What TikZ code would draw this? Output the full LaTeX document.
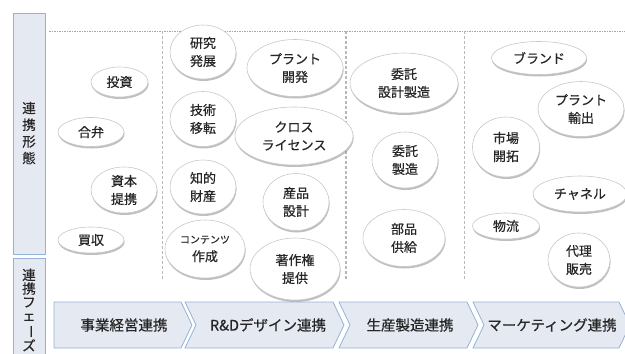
\documentclass[tikz,border=0pt]{standalone}
\usepackage{fontspec}
\newfontfamily\jp[FakeBold=0.5]{Noto Sans CJK JP}
\usetikzlibrary{shapes.geometric,shadows}
\definecolor{boxfill}{HTML}{E4E9F2}
\definecolor{boxline}{HTML}{95B3D7}
\definecolor{elline}{HTML}{C8C8C8}
\definecolor{dashc}{HTML}{A6A6A6}
\definecolor{txt}{HTML}{262626}
\begin{document}
\begin{tikzpicture}[x=1pt,y=-1pt,
  bub/.style={ellipse, draw=elline, line width=0.6pt, fill=white, inner sep=0pt,
    align=center, text=txt, font=\jp\fontsize{13}{18}\selectfont,
    drop shadow={shadow xshift=0.6pt, shadow yshift=-2pt, fill=black!50, opacity=0.5}},
  sidebox/.style={draw=boxline, fill=boxfill, line width=0.8pt},
  chev/.style={draw=boxline, fill=boxfill, line width=0.8pt, line join=miter},
  chevtext/.style={text=txt, font=\jp\fontsize{14.5}{16}\selectfont, inner sep=0pt},
  sidetext/.style={text=txt, align=center, inner sep=0pt},
  hline/.style={draw=dashc, line width=0.9pt, dash pattern=on 1.6pt off 0.9pt},
  vline/.style={draw=dashc!80, line width=1.2pt, dash pattern=on 3pt off 2pt}
]
\useasboundingbox (0,0) rectangle (625,354);
\clip (0,0) rectangle (625,354);

% side boxes
\draw[sidebox] (13,13) rectangle (45,254);
\draw[sidebox] (13,258) rectangle (45,362);
\node[sidetext, font=\jp\fontsize{13.5}{16.7}\selectfont] (lab1) at (29,133) {連\\携\\形\\態};
\node[sidetext, font=\jp\fontsize{13.5}{13.6}\selectfont] (lab2) at (29,310) {連\\携\\フ\\ェ\\\rotatebox[origin=c]{-90}{ー}\\ズ};

% dashed separators
\draw[hline] (49,31) -- (625,31);
\draw[vline] (162.5,31) -- (162.5,281);
\draw[vline] (346,31) -- (346,279);
\draw[vline] (464.5,31) -- (464.5,279);

% column 1
\node[bub, minimum width=57, minimum height=30] (toushi) at (119.5,82) {投資};
\node[bub, minimum width=66, minimum height=29] (gouben) at (91,132) {合弁};
\node[bub, minimum width=66, minimum height=46] (shihon) at (124,190) {資本\\提携};
\node[bub, minimum width=66, minimum height=26] (baishu) at (91,240) {買収};

% column 2
\node[bub, minimum width=66, minimum height=54] (kenkyu) at (203,52) {研究\\発展};
\node[bub, minimum width=96, minimum height=57] (plantdev) at (295,68) {プラント\\開発};
\node[bub, minimum width=66, minimum height=55] (gijutsu) at (203,119) {技術\\移転};
\node[bub, minimum width=118, minimum height=58] (cross) at (294,136) {クロス\\ライセンス};
\node[bub, minimum width=66, minimum height=54] (chiteki) at (203,187) {知的\\財産};
\node[bub, minimum width=66, minimum height=57] (sekkei) at (296,202) {産品\\設計};
\node[bub, minimum width=80, minimum height=58] (content) at (205,249) {{\fontsize{10}{12}\selectfont コンテンツ}\\作成};
\node[bub, minimum width=90, minimum height=62] (chosaku) at (295,269) {著作権\\提供};

% column 3
\node[bub, minimum width=108, minimum height=60] (itaku1) at (404,83) {委託\\設計製造};
\node[bub, minimum width=66, minimum height=56] (itaku2) at (405,160) {委託\\製造};
\node[bub, minimum width=82, minimum height=57] (buhin) at (404,238) {部品\\供給};

% column 4
\node[bub, minimum width=95, minimum height=33] (brand) at (539,58) {ブランド};
\node[bub, minimum width=86, minimum height=55] (plantexp) at (581,109) {プラント\\輸出};
\node[bub, minimum width=67, minimum height=60] (shijou) at (506,147) {市場\\開拓};
\node[bub, minimum width=94, minimum height=36] (channel) at (580,194) {チャネル};
\node[bub, minimum width=67, minimum height=26] (butsuryu) at (506,226) {物流};
\node[bub, minimum width=62, minimum height=54] (dairi) at (579,260) {代理\\販売};

% phase chevrons
\draw[chev] (54,302) -- (181,302) -- (192,325) -- (181,348) -- (54,348) -- cycle;
\draw[chev] (185,302) -- (333,302) -- (344,325) -- (333,348) -- (185,348) -- (196,325) -- cycle;
\draw[chev] (339,302) -- (467,302) -- (478,325) -- (467,348) -- (339,348) -- (350,325) -- cycle;
\draw[chev] (473,302) -- (619,302) -- (630,325) -- (619,348) -- (473,348) -- (484,325) -- cycle;
\node[chevtext] (ph1) at (124,325) {事業経営連携};
\node[chevtext] (ph2) at (268,325) {R\&Dデザイン連携};
\node[chevtext] (ph3) at (410,325) {生産製造連携};
\node[chevtext] (ph4) at (552,325) {マーケティング連携};
\end{tikzpicture}
\end{document}
